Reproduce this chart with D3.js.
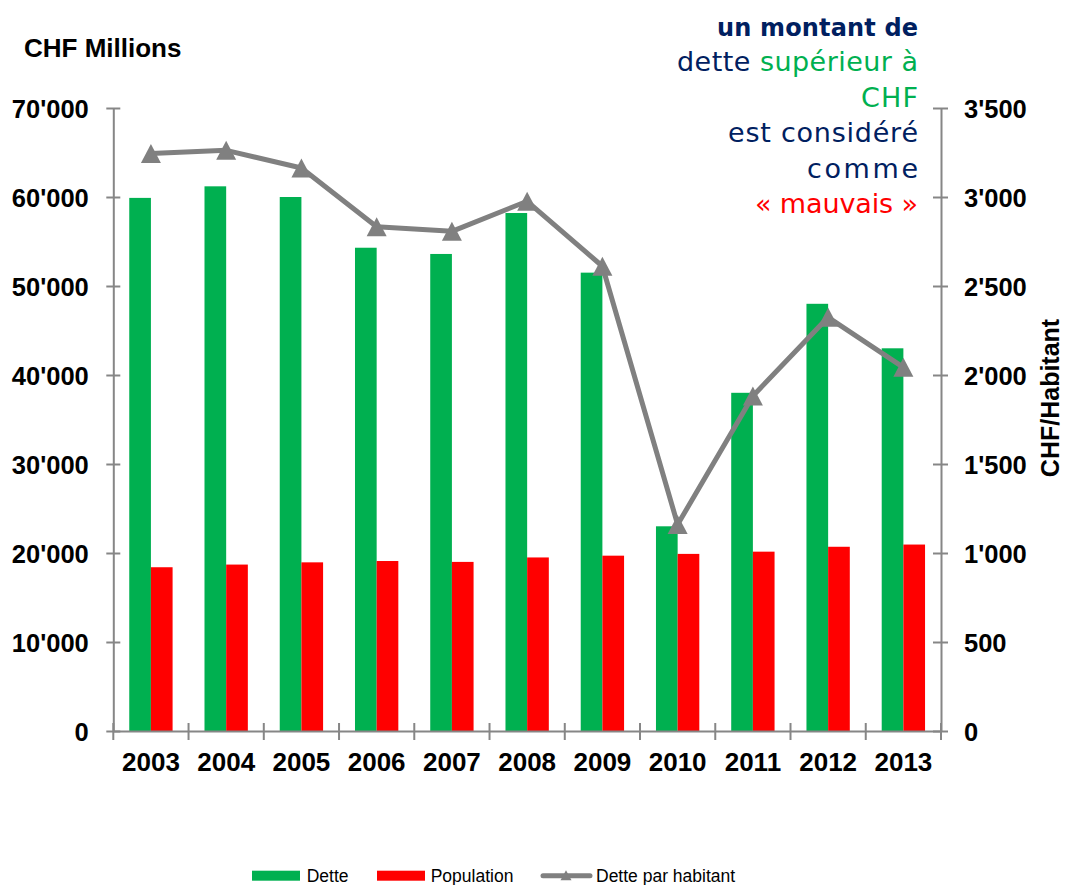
<!DOCTYPE html>
<html><head><meta charset="utf-8">
<script src="https://cdn.jsdelivr.net/npm/d3@7"></script>
<style>
html,body{margin:0;padding:0;background:#fff;}
svg{display:block;}
</style>
</head><body>
<svg id="chart" width="1065" height="885"></svg>
<script>
const years = ["2003","2004","2005","2006","2007","2008","2009","2010","2011","2012","2013"];
const dette = [59900, 61200, 60000, 54300, 53600, 58200, 51500, 23000, 38000, 48000, 43000];
const population = [18400, 18700, 18950, 19100, 19000, 19500, 19700, 19900, 20150, 20700, 20950];
const detteParHabitant = [3245, 3262, 3163, 2833, 2807, 2976, 2611, 1160, 1882, 2324, 2043];
const leftTicks = [0, 10000, 20000, 30000, 40000, 50000, 60000, 70000];
const rightTicks = [0, 500, 1000, 1500, 2000, 2500, 3000, 3500];
const seriesNames = ["Dette", "Population", "Dette par habitant"];
const leftTitle = "CHF Millions";
const rightTitle = "CHF/Habitant";

const C_GREEN = "#00b050", C_RED = "#ff0000", C_LINE = "#808080", C_AXIS = "#868686", C_NAVY = "#002060";
const FONT = "'Liberation Sans', Arial, sans-serif";

const svg = d3.select("#chart");
const loc = d3.formatLocale({decimal: ".", thousands: "'", grouping: [3], currency: ["", ""]});
const fmt = loc.format(",");

const x = d3.scaleBand().domain(years).range([113.3, 941]).paddingInner(0).paddingOuter(0);
const yL = d3.scaleLinear().domain([0, 70000]).range([731, 108]);
const yR = d3.scaleLinear().domain([0, 3500]).range([731, 108]);
const bw = x.bandwidth() * 0.288;
const cx = d => x(d) + x.bandwidth() / 2;

// bars
const g = svg.append("g");
g.selectAll("rect.dette").data(years).join("rect")
  .attr("x", d => cx(d) - bw).attr("width", bw)
  .attr("y", (d, i) => yL(dette[i])).attr("height", (d, i) => yL(0) - yL(dette[i]))
  .attr("fill", C_GREEN);
g.selectAll("rect.pop").data(years).join("rect")
  .attr("x", d => cx(d)).attr("width", bw)
  .attr("y", (d, i) => yL(population[i])).attr("height", (d, i) => yL(0) - yL(population[i]))
  .attr("fill", C_RED);

// left axis
const axL = svg.append("g").attr("transform", `translate(${x.range()[0]},0)`)
  .call(d3.axisLeft(yL).tickValues(leftTicks).tickFormat(fmt).tickSize(7).tickSizeOuter(0).tickPadding(17.5));
axL.select(".domain").attr("stroke", C_AXIS).attr("stroke-width", 2);
axL.selectAll(".tick line").attr("x1", 7).attr("stroke", C_AXIS).attr("stroke-width", 2);
axL.selectAll(".tick text").attr("font-family", FONT).attr("font-weight", "bold").attr("font-size", 25.5).attr("fill", "#000").attr("dy", "0.36em");

// right axis
const axR = svg.append("g").attr("transform", `translate(${x.range()[1]},0)`)
  .call(d3.axisRight(yR).tickValues(rightTicks).tickFormat(fmt).tickSize(7).tickSizeOuter(0).tickPadding(16));
axR.select(".domain").attr("stroke", C_AXIS).attr("stroke-width", 2);
axR.selectAll(".tick line").attr("x1", -8).attr("stroke", C_AXIS).attr("stroke-width", 2);
axR.selectAll(".tick text").attr("font-family", FONT).attr("font-weight", "bold").attr("font-size", 25.5).attr("fill", "#000").attr("dy", "0.36em");

// bottom axis
const axB = svg.append("g").attr("transform", `translate(0,${yL(0)})`)
  .call(d3.axisBottom(x).tickSize(0).tickSizeOuter(0).tickPadding(22));
axB.select(".domain").attr("stroke", C_AXIS).attr("stroke-width", 2);
axB.selectAll(".tick text").attr("font-family", FONT).attr("font-weight", "bold").attr("font-size", 26).attr("fill", "#000").attr("dy", "0.71em");
const bounds = years.map(d => x(d)).concat([x.range()[1]]);
axB.selectAll("line.bt").data(bounds).join("line").attr("class", "bt")
  .attr("x1", d => d).attr("x2", d => d).attr("y1", -8).attr("y2", 9)
  .attr("stroke", C_AXIS).attr("stroke-width", 2);

// line series
const line = d3.line().x((d, i) => cx(years[i])).y(d => yR(d));
svg.append("path").datum(detteParHabitant).attr("d", line)
  .attr("fill", "none").attr("stroke", C_LINE).attr("stroke-width", 5).attr("stroke-linejoin", "round");
const tri = (w, h) => `M0,${-h/2}L${w/2},${h/2}L${-w/2},${h/2}Z`;
svg.selectAll("path.mk").data(detteParHabitant).join("path").attr("class", "mk")
  .attr("transform", (d, i) => `translate(${cx(years[i])},${yR(d)})`)
  .attr("d", tri(20, 19)).attr("fill", C_LINE);

// titles
svg.append("text").attr("x", 24).attr("y", 57).text(leftTitle)
  .attr("font-family", FONT).attr("font-weight", "bold").attr("font-size", 26).attr("fill", "#000");
svg.append("text").attr("transform", "translate(1059,398) rotate(-90)").attr("text-anchor", "middle")
  .text(rightTitle).attr("font-family", FONT).attr("font-weight", "bold").attr("font-size", 25).attr("fill", "#000");

// annotation
const AF = "'DejaVu Sans', Verdana, sans-serif";
const ann = [
  {y: 35.7, w: 201, bold: true, parts: [["un montant de", C_NAVY]]},
  {y: 71, w: 241, parts: [["dette ", C_NAVY], ["supérieur à", C_GREEN]]},
  {y: 106.7, w: 57, parts: [["CHF", C_GREEN]]},
  {y: 141.7, w: 190, parts: [["est considéré", C_NAVY]]},
  {y: 177.7, w: 111, parts: [["comme", C_NAVY]]},
  {y: 213.3, w: 163, parts: [["« mauvais »", C_RED]]}
];
ann.forEach(l => {
  const t = svg.append("text").attr("x", 918 - l.w).attr("y", l.y)
    .attr("font-family", AF).attr("font-size", l.bold ? 24 : 27)
    .attr("font-weight", l.bold ? "bold" : "normal")
    .attr("textLength", l.w).attr("lengthAdjust", "spacing");
  l.parts.forEach(p => t.append("tspan").text(p[0]).attr("fill", p[1]));
});

// legend
const lg = svg.append("g");
lg.append("rect").attr("x", 252).attr("y", 870.7).attr("width", 48).attr("height", 10).attr("fill", C_GREEN);
lg.append("text").attr("x", 306.7).attr("y", 881.7).text(seriesNames[0]);
lg.append("rect").attr("x", 377).attr("y", 870.7).attr("width", 48).attr("height", 10).attr("fill", C_RED);
lg.append("text").attr("x", 430.7).attr("y", 881.7).text(seriesNames[1]);
lg.append("line").attr("x1", 543).attr("x2", 590).attr("y1", 875.7).attr("y2", 875.7)
  .attr("stroke", C_LINE).attr("stroke-width", 5).attr("stroke-linecap", "round");
lg.append("path").attr("transform", "translate(566,875.2)").attr("d", tri(11, 10)).attr("fill", C_LINE);
lg.append("text").attr("x", 596).attr("y", 881.7).text(seriesNames[2]);
lg.selectAll("text").attr("font-family", FONT).attr("font-size", 17.5).attr("fill", "#000");
</script>
</body></html>
